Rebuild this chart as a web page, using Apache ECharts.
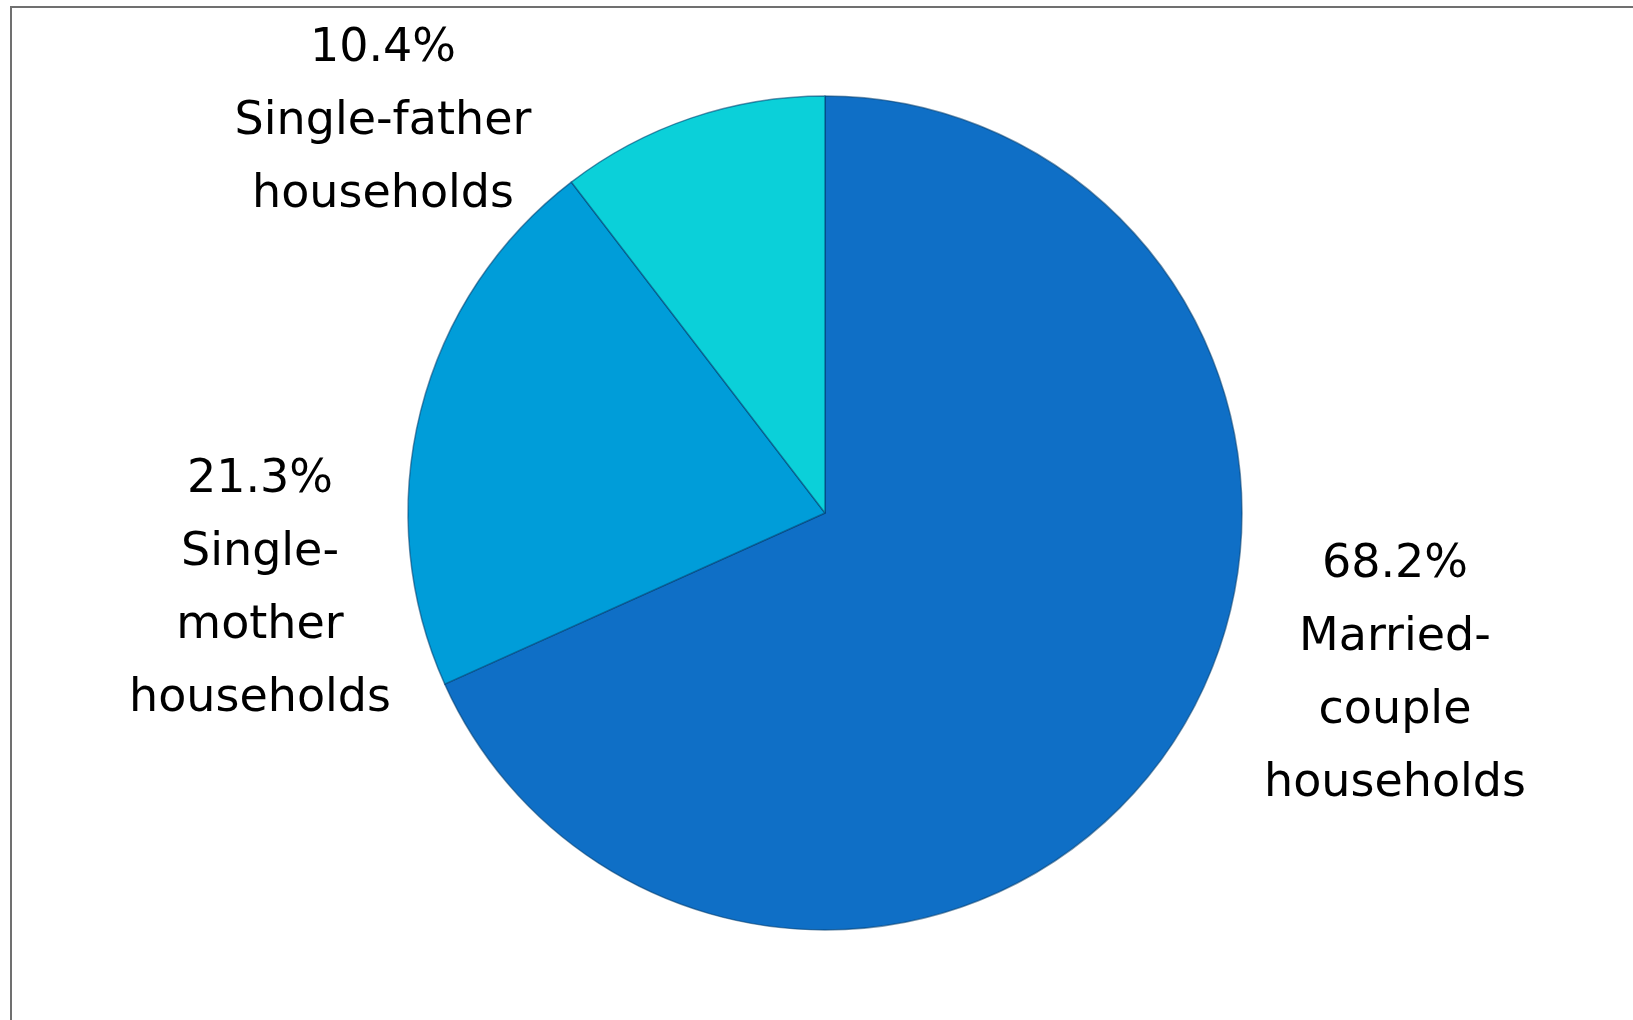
<!DOCTYPE html>
<html>
<head>
<meta charset="utf-8">
<script src="https://cdn.jsdelivr.net/npm/echarts@6/dist/echarts.min.js"></script>
<style>
  html, body { margin: 0; padding: 0; background: #ffffff; }
  #frame { position: absolute; left: 10px; top: 6px; width: 1623px; height: 1014px;
           border-left: 2px solid #707070; border-top: 2px solid #707070; box-sizing: border-box; }
  #chart { position: absolute; left: 0; top: 0; width: 1633px; height: 1020px; }
</style>
</head>
<body>
<div id="frame"></div>
<div id="chart"></div>
<script>
// Data
const categories = ['Married-couple households', 'Single-mother households', 'Single-father households'];
const shares = [68.2, 21.3, 10.4];
const labelLines = [
  ['Married-', 'couple', 'households'],
  ['Single-', 'mother', 'households'],
  ['Single-father', 'households']
];
const colors = ['#0F6FC6', '#009DD9', '#0BD0D9'];

// Label block centres (as fractions of the chart area)
const labelSpots = [
  [1395 / 1633, 675 / 1020],
  [260 / 1633, 590 / 1020],
  [383 / 1633, 122 / 1020]
];

const chart = echarts.init(document.getElementById('chart'), null, { renderer: 'canvas' });

chart.setOption({
  backgroundColor: 'transparent',
  animation: false,
  series: [{
    type: 'pie',
    center: [825, 513],
    radius: [0, 417],
    startAngle: 90,
    clockwise: true,
    avoidLabelOverlap: false,
    data: categories.map((c, i) => ({
      name: c,
      value: shares[i],
      itemStyle: { color: colors[i] }
    })),
    itemStyle: {
      borderColor: 'rgba(0,60,110,0.55)',
      borderWidth: 1.5
    },
    label: {
      show: true,
      position: 'outside',
      formatter: (p) => p.value.toFixed(1) + '%\n' + labelLines[p.dataIndex].join('\n'),
      fontFamily: 'DejaVu Sans',
      fontSize: 46,
      lineHeight: 73,
      color: '#000000',
      align: 'center'
    },
    labelLine: { show: false },
    labelLayout: function (params) {
      const s = labelSpots[params.dataIndex];
      const w = chart.getWidth(), h = chart.getHeight();
      return {
        x: s[0] * w,
        y: s[1] * h,
        align: 'center',
        verticalAlign: 'middle'
      };
    },
    emphasis: { disabled: true }
  }]
});
</script>
</body>
</html>
